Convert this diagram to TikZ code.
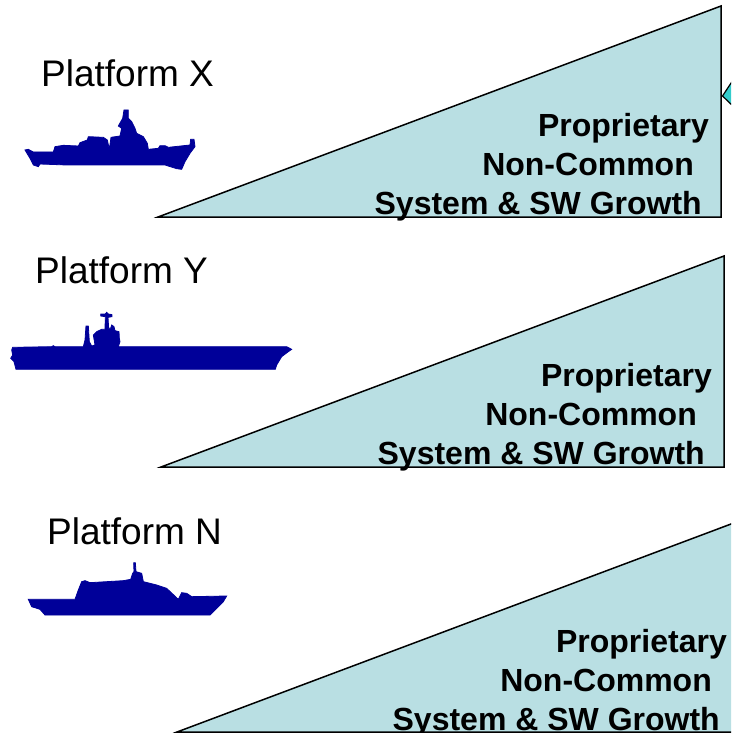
\documentclass[tikz,border=0pt]{standalone}
\usepackage{fontspec}
\setmainfont{Liberation Sans}
\definecolor{wedgeblue}{HTML}{B9DFE3}
\definecolor{shipblue}{HTML}{000099}
\definecolor{arrowteal}{HTML}{33CCCC}
\tikzset{
  wedge/.style={draw=black,fill=wedgeblue,line width=1.5pt,line join=miter},
  shipfill/.style={fill=shipblue,draw=shipblue,line width=0.8pt},
  platlabel/.style={anchor=base west,inner sep=0pt,font=\fontsize{37}{37}\selectfont},
  growthlabel/.style={anchor=base east,inner sep=0pt,font=\fontsize{32}{32}\selectfont\bfseries}
}
\begin{document}
\begin{tikzpicture}[x=1pt,y=-1pt]
\useasboundingbox (0,0) rectangle (731,733);
\clip (0,0) rectangle (731,733);
\fill[white] (0,0) rectangle (731,733);
% arrow stub on the right edge
\draw[draw=black,fill=arrowteal,line width=1.2pt] (722.5,96) -- (735,77) -- (735,108) -- cycle;
% wedges
\draw[wedge] (158,217) -- (721,6) -- (721,217) -- cycle;
\draw[wedge] (161,467) -- (724,256) -- (724,467) -- cycle;
\draw[wedge] (177,732) -- (739,521) -- (739,732) -- cycle;
% platform X
\node[platlabel] (px) at (41,87) {Platform X};
\node[growthlabel] (px1) at (709,136) {Proprietary};
\node[growthlabel] (px2) at (694,175) {Non-Common};
\node[growthlabel] (px3) at (702,214) {System \& SW Growth};
\begin{scope}[shift={(0,90)},scale=1/3]
\draw[shipfill] (75,180) -- (85,178) -- (100,186) -- (160,186) -- (165,170) -- (190,166) -- (235,168) -- (240,158) -- (262,150) -- (265,140) -- (310,142) -- (322,150) -- (328,178) -- (333,142) -- (360,138) -- (365,115) -- (355,108) -- (368,85) -- (372,60) -- (385,60) -- (385,85) -- (395,95) -- (405,115) -- (410,130) -- (430,140) -- (442,160) -- (445,178) -- (475,175) -- (480,167) -- (495,167) -- (505,172) -- (570,165) -- (572,148) -- (582,148) -- (585,170) -- (570,190) -- (555,215) -- (545,238) -- (530,236) -- (495,225) -- (200,225) -- (120,222) -- (115,230) -- (100,225) -- (90,205) -- cycle;
\end{scope}
% platform Y
\node[platlabel] (py) at (35,283) {Platform Y};
\node[growthlabel] (py1) at (712,386) {Proprietary};
\node[growthlabel] (py2) at (697,425) {Non-Common};
\node[growthlabel] (py3) at (705,464) {System \& SW Growth};
\begin{scope}[shift={(0,300)},scale=1/3]
\draw[shipfill] (38,142) -- (155,140) -- (160,137) -- (165,140) -- (250,140) -- (255,120) -- (258,78) -- (265,78) -- (268,125) -- (275,138) -- (285,135) -- (280,105) -- (290,95) -- (305,88) -- (315,88) -- (316,50) -- (302,48) -- (302,42) -- (316,42) -- (320,37) -- (325,42) -- (336,44) -- (336,50) -- (324,52) -- (326,85) -- (332,85) -- (335,75) -- (342,80) -- (345,92) -- (357,95) -- (358,115) -- (360,125) -- (355,140) -- (860,140) -- (875,148) -- (865,155) -- (845,170) -- (830,195) -- (826,208) -- (48,208) -- (42,185) -- (32,175) -- (38,165) -- (35,150) -- cycle;
\end{scope}
% platform N
\node[platlabel] (pn) at (47,544) {Platform N};
\node[growthlabel] (pn1) at (727,652) {Proprietary};
\node[growthlabel] (pn2) at (712,691) {Non-Common};
\node[growthlabel] (pn3) at (720,730) {System \& SW Growth};
\begin{scope}[shift={(10,550)},scale=1/3]
\draw[shipfill] (55,148) -- (195,148) -- (205,120) -- (215,95) -- (225,92) -- (240,98) -- (340,92) -- (362,88) -- (368,70) -- (372,65) -- (371,38) -- (376,38) -- (378,65) -- (395,70) -- (400,95) -- (440,105) -- (470,115) -- (505,148) -- (515,128) -- (530,130) -- (545,140) -- (650,138) -- (640,155) -- (600,195) -- (105,195) -- (90,178) -- (65,170) -- cycle;
\end{scope}
\end{tikzpicture}
\end{document}
